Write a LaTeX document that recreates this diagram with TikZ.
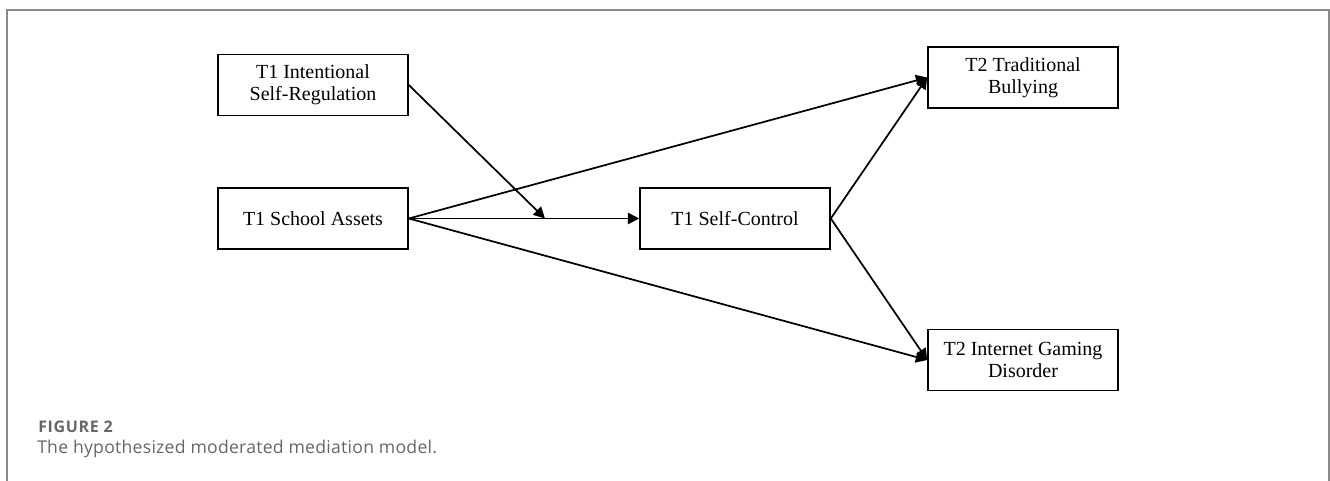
\documentclass[tikz,border=0pt]{standalone}
\usepackage{fontspec}
\setmainfont{Liberation Serif}
\newfontfamily\captionsans[LetterSpace=1.5]{Open Sans}
\newfontfamily\labelsans[LetterSpace=4]{Open Sans}
\usetikzlibrary{arrows.meta}
\definecolor{framegray}{HTML}{8A8A8A}
\definecolor{captiongray}{HTML}{666666}

\begin{document}
\begin{tikzpicture}[x=0.75pt,y=-0.75pt,
    box/.style={draw, line width=1.2pt, minimum width=142.5pt, minimum height=46pt,
      inner sep=0pt, align=center, font=\fontsize{15}{16.5}\selectfont},
    link/.style={line width=1.3pt, -{Triangle[length=8.5pt,width=8.5pt]}},
    capt/.style={anchor=base west, inner sep=0pt, text=captiongray}]
    % Parameters
    \def\colL{313}
    \def\colM{735}
    \def\colR{1023}
    \def\rowMid{218.5}

    % Canvas and frame
    \useasboundingbox (0,0) rectangle (1330,481);
    \draw[framegray, line width=1.5pt] (7,481) -- (7,10) -- (1328.5,10) -- (1328.5,481);

    % Boxes
    \node[box] (isr) at (\colL,85) {T1 Intentional\\Self-Regulation};
    \node[box] (sa) at (\colL,\rowMid) {T1 School Assets};
    \node[box] (sc) at (\colM,\rowMid) {T1 Self-Control};
    \node[box] (tb) at (\colR,77.5) {T2 Traditional\\Bullying};
    \node[box] (igd) at (\colR,360) {T2 Internet Gaming\\Disorder};

    % Moderation point on the a-path
    \coordinate (mod) at (545,\rowMid);

    % Paths
    \draw[link] (sa.east) -- (sc.west);
    \draw[link] (isr.east) -- (mod);
    \draw[link] (sa.east) -- (tb.west);
    \draw[link] (sa.east) -- (igd.west);
    \draw[link] (sc.east) -- (tb.west);
    \draw[link] (sc.east) -- (igd.west);

    % Caption
    \node[capt, font=\labelsans\bfseries\fontsize{12}{14}\selectfont] (figlabel) at (38,432.5) {FIGURE 2};
    \node[capt, font=\captionsans\fontsize{13.2}{15}\selectfont] (figcaption) at (37,453.5) {The hypothesized moderated mediation model.};
\end{tikzpicture}
\end{document}
